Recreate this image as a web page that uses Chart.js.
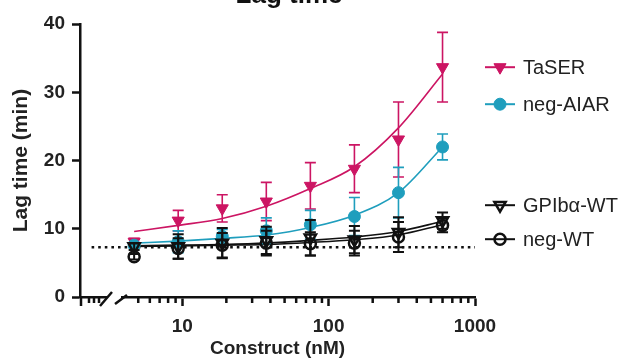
<!DOCTYPE html>
<html>
<head>
<meta charset="utf-8">
<script src="https://cdn.jsdelivr.net/npm/chart.js@4.4.1/dist/chart.umd.min.js"></script>
<style>
    html, body { margin: 0; padding: 0; background: #fff; overflow: hidden; }
    #wrap { position: absolute; left: 0; top: -22px; width: 626px; height: 380px; }
</style>
</head>
<body>
<div id="wrap"><canvas id="lagChart"></canvas></div>
<script>
'use strict';

// concentrations (nM) and tick labels
const concentrations = [4.6875, 9.375, 18.75, 37.5, 75, 150, 300, 600];
const xTickValues = [10, 100, 1000];
const xMinorValues = [5, 6, 7, 8, 9, 20, 30, 40, 50, 60, 70, 80, 90, 200, 300, 400, 500, 600, 700, 800, 900];
const yTickStep = 10;

const seriesNames = ['TaSER', 'neg-AIAR', 'GPIbα-WT', 'neg-WT'];

// measured lag time (min), mean and SD
const taserMean = [8.1, 11.2, 13.0, 14.0, 16.3, 18.8, 23.1, 33.7];
const taserSd = [0.5, 1.5, 2.0, 2.8, 3.4, 3.5, 5.5, 5.1];
const aiarMean = [7.6, 8.1, 8.9, 9.7, 10.6, 11.8, 15.3, 22.0];
const aiarSd = [0.4, 1.6, 1.0, 1.9, 2.1, 2.8, 3.7, 1.9];
const gpibMean = [7.4, 7.4, 7.9, 8.3, 8.7, 8.4, 9.5, 11.2];
const gpibSd = [0.5, 1.8, 2.2, 2.0, 2.6, 2.0, 2.2, 1.2];
const negWtMean = [5.9, 7.1, 7.6, 7.9, 7.8, 7.9, 8.8, 10.5];
const negWtSd = [0.4, 1.5, 1.8, 1.8, 1.7, 1.8, 2.2, 1.0];

// fitted curves
const taserFit = [9.6, 10.5, 11.5, 13.3, 15.9, 19.1, 24.8, 32.7];
const aiarFit = [7.9, 8.2, 8.6, 9.1, 10.2, 12.0, 15.3, 22.0];
const gpibFit = [7.5, 7.6, 7.7, 7.9, 8.3, 8.8, 9.6, 11.1];
const negWtFit = [7.4, 7.5, 7.6, 7.7, 8.0, 8.4, 9.1, 10.6];

// dotted baseline
const baselineX = [2.4, 1000];
const baselineY = [7.3, 7.3];

const MAGENTA = '#cc1563';
const TEAL = '#1f9ebd';
const BLACK = '#111111';
const FONT = "'Liberation Sans', Arial, sans-serif";

function points(xs, ys) {
    return xs.map((x, i) => ({ x: x, y: ys[i] }));
}

function fitLine(values, color, width) {
    return {
        type: 'line',
        data: points(concentrations, values),
        borderColor: color,
        borderWidth: width,
        pointRadius: 0,
        cubicInterpolationMode: 'monotone',
        fill: false,
        order: 10
    };
}

function markers(label, values, sd, color, style, filled, radius, order) {
    return {
        type: 'line',
        label: label,
        data: points(concentrations, values),
        showLine: false,
        errorBars: sd,
        pointStyle: style,
        rotation: style === 'triangle' ? 180 : 0,
        pointRadius: radius,
        pointHoverRadius: radius,
        pointBackgroundColor: filled ? color : 'rgba(0,0,0,0)',
        pointBorderColor: color,
        pointBorderWidth: filled ? 1 : 2.5,
        barColor: color,
        barWidth: filled ? 1.6 : 2,
        order: order
    };
}

const datasets = [
    {
        type: 'line',
        data: points(baselineX, baselineY),
        borderColor: BLACK,
        borderWidth: 2.6,
        borderDash: [2.6, 4],
        pointRadius: 0,
        order: 20
    },
    fitLine(negWtFit, BLACK, 1.6),
    fitLine(gpibFit, BLACK, 1.6),
    fitLine(aiarFit, TEAL, 1.6),
    fitLine(taserFit, MAGENTA, 1.6),
    markers(seriesNames[0], taserMean, taserSd, MAGENTA, 'triangle', true, 7, 4),
    markers(seriesNames[1], aiarMean, aiarSd, TEAL, 'circle', true, 6, 3),
    markers(seriesNames[2], gpibMean, gpibSd, BLACK, 'triangle', false, 6.5, 2),
    markers(seriesNames[3], negWtMean, negWtSd, BLACK, 'circle', false, 5.5, 1)
];

// error bars under each marker set
const errorBarPlugin = {
    id: 'errorBars',
    beforeDatasetDraw(chart, args) {
        const ds = chart.data.datasets[args.index];
        if (!ds.errorBars) return;
        const ctx = chart.ctx;
        const xs = chart.scales.x;
        const ys = chart.scales.y;
        ctx.save();
        ctx.strokeStyle = ds.barColor;
        ctx.lineWidth = ds.barWidth;
        ds.data.forEach((p, i) => {
            const sd = ds.errorBars[i];
            const px = xs.getPixelForValue(p.x);
            const top = ys.getPixelForValue(p.y + sd);
            const bot = ys.getPixelForValue(p.y - sd);
            ctx.beginPath();
            ctx.moveTo(px, top);
            ctx.lineTo(px, bot);
            ctx.moveTo(px - 5.5, top);
            ctx.lineTo(px + 5.5, top);
            ctx.moveTo(px - 5.5, bot);
            ctx.lineTo(px + 5.5, bot);
            ctx.stroke();
        });
        ctx.restore();
    }
};

// minor ticks, left stub and axis break
const axisBreakPlugin = {
    id: 'axisBreak',
    afterDraw(chart) {
        const ctx = chart.ctx;
        const xs = chart.scales.x;
        const left = chart.chartArea.left;
        const bottom = chart.chartArea.bottom;
        ctx.save();
        ctx.strokeStyle = BLACK;
        ctx.lineWidth = 2.5;
        ctx.beginPath();
        xMinorValues.forEach(v => {
            const px = xs.getPixelForValue(v);
            ctx.moveTo(px, bottom);
            ctx.lineTo(px, bottom + 6);
        });
        [9, 14, 19].forEach(dx => {
            ctx.moveTo(left + dx, bottom);
            ctx.lineTo(left + dx, bottom + 6);
        });
        ctx.moveTo(left + 1, bottom);
        ctx.lineTo(left + 1, bottom + 9);
        ctx.stroke();
        ctx.fillStyle = '#fff';
        ctx.fillRect(left + 27, bottom - 3, 14, 6);
        ctx.beginPath();
        ctx.moveTo(left + 20, bottom + 9);
        ctx.lineTo(left + 32, bottom - 5);
        ctx.moveTo(left + 35, bottom + 7);
        ctx.lineTo(left + 47, bottom - 2);
        ctx.stroke();
        ctx.restore();
    }
};

// legend drawn beside the plot
const sideLegendPlugin = {
    id: 'sideLegend',
    afterDraw(chart) {
        const ctx = chart.ctx;
        const area = chart.chartArea;
        const offsets = [43, 80, 181, 215];
        const x0 = area.right + 10;
        ctx.save();
        chart.data.datasets.filter(ds => ds.errorBars).forEach((ds, i) => {
            const y = area.top + offsets[i];
            ctx.strokeStyle = ds.pointBorderColor;
            ctx.lineWidth = 2;
            ctx.beginPath();
            ctx.moveTo(x0, y);
            ctx.lineTo(x0 + 30, y);
            ctx.stroke();
            ctx.fillStyle = ds.pointBackgroundColor;
            ctx.lineWidth = ds.pointBorderWidth;
            Chart.helpers.drawPoint(ctx, {
                pointStyle: ds.pointStyle,
                rotation: ds.rotation,
                radius: ds.pointRadius,
                borderWidth: ds.pointBorderWidth
            }, x0 + 15, y);
            ctx.fillStyle = '#222';
            ctx.font = '20px ' + FONT;
            ctx.textBaseline = 'middle';
            ctx.fillText(ds.label, x0 + 38, y + 1);
        });
        ctx.restore();
    }
};

new Chart(document.getElementById('lagChart'), {
    data: { datasets: datasets },
    options: {
        responsive: true,
        maintainAspectRatio: false,
        animation: false,
        layout: { padding: { left: 0, right: 48, top: 0, bottom: 0 } },
        plugins: {
            legend: { display: false },
            tooltip: { enabled: false },
            title: {
                display: true,
                text: 'Lag time',
                color: '#111',
                font: { family: FONT, size: 26, weight: 'bold' },
                padding: { top: 2, bottom: 13 }
            }
        },
        scales: {
            x: {
                type: 'logarithmic',
                min: 2,
                max: 1000,
                afterBuildTicks: scale => {
                    scale.ticks = xTickValues.map(v => ({ value: v }));
                },
                afterFit: scale => { scale.height = 61; },
                ticks: {
                    color: '#222',
                    padding: 9,
                    maxRotation: 0,
                    autoSkip: false,
                    font: { family: FONT, size: 19, weight: 'bold' },
                    callback: v => String(v)
                },
                grid: {
                    drawOnChartArea: false,
                    tickLength: 9,
                    tickWidth: 2.5,
                    tickColor: BLACK
                },
                border: { display: true, color: BLACK, width: 2.5 },
                title: {
                    display: true,
                    text: 'Construct (nM)',
                    color: '#222',
                    font: { family: FONT, size: 19, weight: 'bold', lineHeight: 1.0 },
                    padding: { top: 0, bottom: 0 }
                }
            },
            y: {
                min: 0,
                max: 40,
                afterFit: scale => { scale.width = 80; },
                ticks: {
                    stepSize: yTickStep,
                    color: '#222',
                    padding: 7,
                    font: { family: FONT, size: 19, weight: 'bold' }
                },
                grid: {
                    drawOnChartArea: false,
                    tickLength: 8,
                    tickWidth: 2.5,
                    tickColor: BLACK
                },
                border: { display: true, color: BLACK, width: 2.5 },
                title: {
                    display: true,
                    text: 'Lag time (min)',
                    color: '#222',
                    font: { family: FONT, size: 21, weight: 'bold' },
                    padding: { top: 9, bottom: 0 }
                }
            },
            side: {
                position: 'right',
                display: true,
                min: 0,
                max: 1,
                afterFit: scale => { scale.width = 103; },
                ticks: { display: false },
                grid: { display: false },
                border: { display: false }
            }
        }
    },
    plugins: [errorBarPlugin, axisBreakPlugin, sideLegendPlugin]
});
</script>
</body>
</html>
